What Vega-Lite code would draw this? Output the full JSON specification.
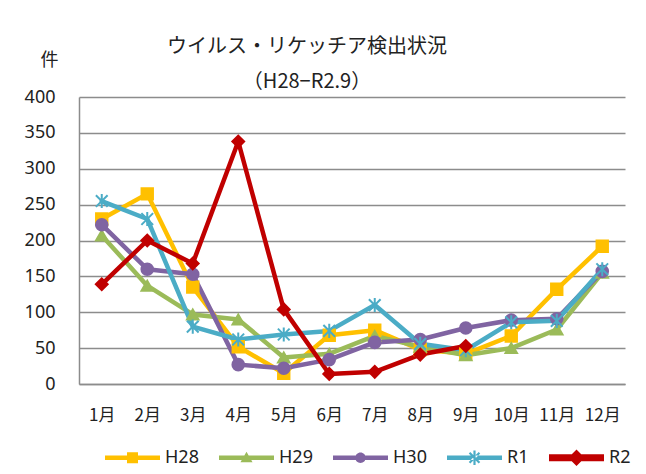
{
  "$schema": "https://vega.github.io/schema/vega-lite/v6.json",
  "autosize": "none",
  "width": 546,
  "height": 287,
  "padding": {"left": 79, "top": 97, "right": 21, "bottom": 90},
  "background": "white",
  "config": {
    "view": {"stroke": null},
    "font": "Noto Sans"
  },
  "title": {
    "text": ["ウイルス・リケッチア検出状況", "（H28−R2.9）"],
    "font": "Noto Sans CJK JP",
    "fontSize": 20,
    "fontWeight": "normal",
    "color": "#222222",
    "lineHeight": 35,
    "anchor": "middle",
    "dx": -45,
    "dy": 47,
    "offset": 6
  },
  "data": {
    "values": [
      {"m": "1月", "s": "H28", "v": 230}, {"m": "2月", "s": "H28", "v": 265}, {"m": "3月", "s": "H28", "v": 135}, {"m": "4月", "s": "H28", "v": 52},
      {"m": "5月", "s": "H28", "v": 15}, {"m": "6月", "s": "H28", "v": 68}, {"m": "7月", "s": "H28", "v": 75}, {"m": "8月", "s": "H28", "v": 48},
      {"m": "9月", "s": "H28", "v": 42}, {"m": "10月", "s": "H28", "v": 67}, {"m": "11月", "s": "H28", "v": 132}, {"m": "12月", "s": "H28", "v": 192},
      {"m": "1月", "s": "H29", "v": 207}, {"m": "2月", "s": "H29", "v": 137}, {"m": "3月", "s": "H29", "v": 97}, {"m": "4月", "s": "H29", "v": 90},
      {"m": "5月", "s": "H29", "v": 37}, {"m": "6月", "s": "H29", "v": 42}, {"m": "7月", "s": "H29", "v": 67}, {"m": "8月", "s": "H29", "v": 52},
      {"m": "9月", "s": "H29", "v": 40}, {"m": "10月", "s": "H29", "v": 50}, {"m": "11月", "s": "H29", "v": 76}, {"m": "12月", "s": "H29", "v": 155},
      {"m": "1月", "s": "H30", "v": 222}, {"m": "2月", "s": "H30", "v": 160}, {"m": "3月", "s": "H30", "v": 153}, {"m": "4月", "s": "H30", "v": 27},
      {"m": "5月", "s": "H30", "v": 22}, {"m": "6月", "s": "H30", "v": 34}, {"m": "7月", "s": "H30", "v": 58}, {"m": "8月", "s": "H30", "v": 62},
      {"m": "9月", "s": "H30", "v": 78}, {"m": "10月", "s": "H30", "v": 89}, {"m": "11月", "s": "H30", "v": 91}, {"m": "12月", "s": "H30", "v": 157},
      {"m": "1月", "s": "R1", "v": 255}, {"m": "2月", "s": "R1", "v": 230}, {"m": "3月", "s": "R1", "v": 80}, {"m": "4月", "s": "R1", "v": 62},
      {"m": "5月", "s": "R1", "v": 69}, {"m": "6月", "s": "R1", "v": 74}, {"m": "7月", "s": "R1", "v": 110}, {"m": "8月", "s": "R1", "v": 56},
      {"m": "9月", "s": "R1", "v": 47}, {"m": "10月", "s": "R1", "v": 86}, {"m": "11月", "s": "R1", "v": 88}, {"m": "12月", "s": "R1", "v": 160},
      {"m": "1月", "s": "R2", "v": 139}, {"m": "2月", "s": "R2", "v": 200}, {"m": "3月", "s": "R2", "v": 168}, {"m": "4月", "s": "R2", "v": 338},
      {"m": "5月", "s": "R2", "v": 104}, {"m": "6月", "s": "R2", "v": 14}, {"m": "7月", "s": "R2", "v": 17}, {"m": "8月", "s": "R2", "v": 41},
      {"m": "9月", "s": "R2", "v": 53}
    ]
  },
  "encoding": {
    "x": {
      "field": "m", "type": "ordinal",
      "sort": ["1月","2月","3月","4月","5月","6月","7月","8月","9月","10月","11月","12月"],
      "scale": {"type": "point", "padding": 0.5},
      "axis": {
        "title": null, "labelAngle": 0, "tickSize": 0, "labelPadding": 23,
        "domainColor": "#8c8c8c", "domainWidth": 1.5,
        "labelFont": "Noto Sans CJK JP", "labelFontSize": 17, "labelColor": "#222222"
      }
    },
    "y": {
      "field": "v", "type": "quantitative",
      "scale": {"domain": [0, 400], "nice": false},
      "axis": {
        "values": [0, 50, 100, 150, 200, 250, 300, 350, 400],
        "title": "件", "titleAngle": 0, "titleX": -30, "titleY": -37,
        "titleAlign": "center", "titleBaseline": "middle",
        "titleFont": "Noto Sans CJK JP", "titleFontSize": 18, "titleFontWeight": "normal", "titleColor": "#222222",
        "tickSize": 0, "labelPadding": 24, "labelFontSize": 18, "labelColor": "#222222",
        "domainColor": "#8c8c8c", "domainWidth": 1.5,
        "gridColor": "#8c8c8c", "gridWidth": 1.4
      }
    }
  },
  "resolve": {
    "scale": {"shape": "independent", "color": "independent"},
    "legend": {"color": "independent", "shape": "independent"}
  },
  "layer": [
    {
      "mark": {"type": "line", "strokeJoin": "round", "strokeCap": "round"},
      "encoding": {
        "color": {
          "field": "s", "type": "nominal",
          "scale": {"domain": ["H28","H29","H30","R1","R2"], "range": ["#FFC000","#9BBB59","#8064A2","#4BACC6","#C00000"]},
          "legend": null
        },
        "strokeWidth": {
          "field": "s", "type": "nominal",
          "scale": {"domain": ["H28","H29","H30","R1","R2"], "range": [4.5,4.5,4.5,4.5,7]},
          "legend": null
        }
      }
    },
    {
      "mark": {"type": "point", "filled": true, "opacity": 1, "strokeWidth": 2},
      "encoding": {
        "fill": {
          "field": "s", "type": "nominal",
          "scale": {"domain": ["H28","H29","H30","R1","R2"], "range": ["#FFC000","#9BBB59","#8064A2","#4BACC6","#C00000"]},
          "legend": null
        },
        "stroke": {
          "field": "s", "type": "nominal",
          "scale": {"domain": ["H28","H29","H30","R1","R2"], "range": ["#FFC000","#9BBB59","#8064A2","#4BACC6","#C00000"]},
          "legend": null
        },
        "shape": {
          "field": "s", "type": "nominal",
          "scale": {"domain": ["H28","H29","H30","R1","R2"], "range": ["square","triangle-up","circle","M-1,-1L1,1M-1,1L1,-1M0,-1.2L0,1.2","diamond"]},
          "legend": null
        },
        "size": {
          "field": "s", "type": "nominal",
          "scale": {"domain": ["H28","H29","H30","R1","R2"], "range": [130, 140, 110, 170, 360]},
          "legend": null
        }
      }
    },
    {
      "transform": [{"filter": "false"}],
      "mark": {"type": "point", "filled": true, "size": 3025},
      "encoding": {
        "color": {
          "field": "s", "type": "nominal",
          "scale": {"domain": ["H28","H29","H30","R1","R2"], "range": ["#FFC000","#9BBB59","#8064A2","#4BACC6","#C00000"]},
          "legend": {
            "title": null, "orient": "none", "direction": "horizontal",
            "legendX": 26, "legendY": 333,
            "symbolSize": 3025, "symbolOpacity": 1, "symbolStrokeWidth": 0,
            "labelFontSize": 18, "labelColor": "#222222", "labelOffset": 5, "columnPadding": 20
          }
        },
        "shape": {
          "field": "s", "type": "nominal",
          "scale": {
            "domain": ["H28","H29","H30","R1","R2"],
            "range": [
              "M-1,-0.082H1V0.082H-1ZM-0.2,-0.2H0.2V0.2H-0.2Z",
              "M-1,-0.082H1V0.082H-1ZM0,-0.22L0.22,0.16H-0.22Z",
              "M-1,-0.082H1V0.082H-1ZM0.19,0A0.19,0.19 0 1,1 -0.19,0A0.19,0.19 0 1,1 0.19,0Z",
              "M-1,-0.082H1V0.082H-1ZM-0.04,-0.26H0.04V0.26H-0.04ZM-0.152,-0.208L0.208,0.152L0.152,0.208L-0.208,-0.152ZM-0.152,0.208L0.208,-0.152L0.152,-0.208L-0.208,0.152Z",
              "M-1,-0.127H1V0.127H-1ZM0,-0.3L0.3,0L0,0.3L-0.3,0Z"
            ]
          },
          "legend": null
        }
      }
    }
  ]
}
